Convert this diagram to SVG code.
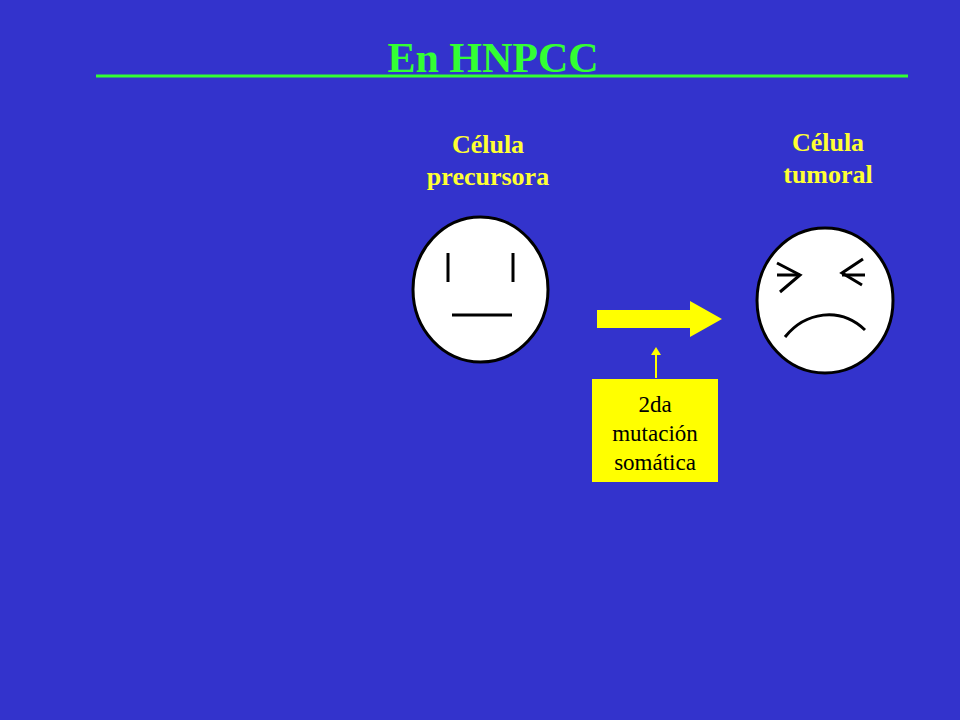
<svg xmlns="http://www.w3.org/2000/svg" width="960" height="720" viewBox="0 0 960 720">
<style>
.face{fill:#fff;stroke:#000;stroke-width:3}
.ln{stroke:#000;stroke-width:3;fill:none}
.lbl{font-family:"Liberation Serif",serif;font-weight:bold;font-size:26px;fill:#ffff33;text-anchor:middle}
.box{font-family:"Liberation Serif",serif;font-size:23px;fill:#000;text-anchor:middle}
</style>
<rect width="960" height="720" fill="#3333cc"/>
<text x="493" y="72" font-family="Liberation Serif,serif" font-weight="bold" font-size="42" fill="#33ff33" text-anchor="middle">En HNPCC</text>
<line x1="96" y1="76" x2="908" y2="76" stroke="#33ff33" stroke-width="3"/>
<g id="precursora">
<text class="lbl" x="488" y="153">Célula</text>
<text class="lbl" x="488" y="185">precursora</text>
<ellipse class="face" cx="480.5" cy="289.5" rx="67.5" ry="72.5"/>
<line class="ln" x1="448" y1="253" x2="448" y2="282"/>
<line class="ln" x1="513" y1="253" x2="513" y2="282"/>
<line class="ln" x1="452" y1="315" x2="512" y2="315"/>
</g>
<g id="tumoral">
<text class="lbl" x="828" y="151">Célula</text>
<text class="lbl" x="828" y="183">tumoral</text>
<ellipse class="face" cx="825" cy="300.5" rx="68" ry="72.5"/>
<polyline class="ln" points="777,263 800,275 780,292"/>
<line class="ln" x1="777" y1="275" x2="800" y2="275"/>
<polyline class="ln" points="863,259 842,273 862,285"/>
<line class="ln" x1="842" y1="275" x2="865" y2="275"/>
<path class="ln" d="M785,337 C805,312 840,306 865,330"/>
</g>
<g id="connectors">
<polygon points="597,310 690,310 690,301 722,319 690,337 690,328 597,328" fill="#ffff00"/>
<line x1="656" y1="378" x2="656" y2="354" stroke="#ffff00" stroke-width="2"/>
<polygon points="651,355 661,355 656,347" fill="#ffff00"/>
</g>
<g id="mutacion">
<rect x="592" y="379" width="126" height="103" fill="#ffff00"/>
<text class="box" x="655" y="412">2da</text>
<text class="box" x="655" y="441">mutación</text>
<text class="box" x="655" y="470">somática</text>
</g>
</svg>
